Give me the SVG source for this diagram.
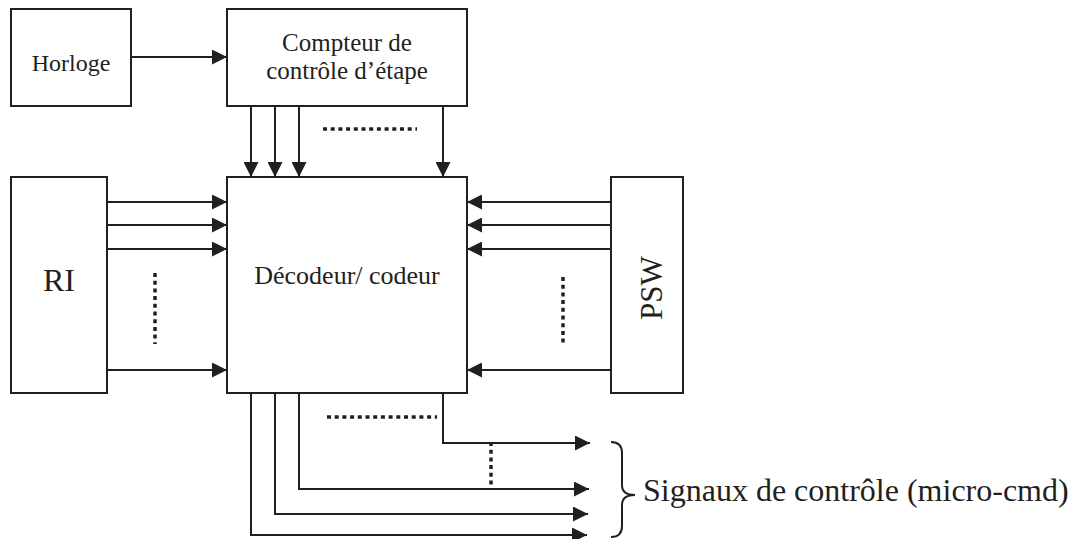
<svg xmlns="http://www.w3.org/2000/svg" width="1078" height="539" viewBox="0 0 1078 539">
<defs>
<style>
.box{fill:#fff;stroke:#231f20;stroke-width:2}
.ln{fill:none;stroke:#231f20;stroke-width:2}
.arr{fill:none;stroke:#231f20;stroke-width:2;marker-end:url(#ah)}
.dot{fill:none;stroke:#231f20;stroke-width:3.5;stroke-dasharray:4 3.7}
.t{font-family:"Liberation Serif","Times New Roman",serif;fill:#231f20;text-anchor:middle}
</style>
<marker id="ah" markerUnits="userSpaceOnUse" markerWidth="15" markerHeight="15" refX="15" refY="7.5" orient="auto">
<path d="M0,0 L15,7.5 L0,15 Z" fill="#231f20"/>
</marker>
</defs>
<rect width="1078" height="539" fill="#fff"/>
<g id="horloge">
<rect class="box" x="11" y="9" width="120" height="97"/>
<text class="t" x="71" y="71" font-size="24">Horloge</text>
</g>
<g id="compteur">
<rect class="box" x="227" y="9" width="240" height="97"/>
<text class="t" font-size="25"><tspan x="347" y="51">Compteur de</tspan><tspan x="347" y="79">contrôle d’étape</tspan></text>
</g>
<g id="decodeur">
<rect class="box" x="227" y="177" width="240" height="216"/>
<text class="t" x="347" y="284" font-size="26">Décodeur/ codeur</text>
</g>
<g id="ri">
<rect class="box" x="11" y="177" width="96" height="216"/>
<text class="t" x="59" y="291" font-size="32">RI</text>
</g>
<g id="psw">
<rect class="box" x="611" y="177" width="72" height="216"/>
<text class="t" transform="translate(662,288) rotate(-90)" font-size="31">PSW</text>
</g>
<g id="signaux">
<path class="ln" d="M611,442 Q622,442 622,453 L622,485 Q622,495 635,495 Q622,495 622,505 L622,526 Q622,537 611,537"/>
<text x="643" y="501" font-size="32" font-family="Liberation Serif, Times New Roman, serif" fill="#231f20">Signaux de contrôle (micro-cmd)</text>
</g>
<g id="connectors">
<path class="arr" d="M131,57 H227"/>
<path class="arr" d="M251,106 V177"/>
<path class="arr" d="M275,106 V177"/>
<path class="arr" d="M299,106 V177"/>
<path class="arr" d="M443,106 V177"/>
<path class="dot" d="M323,129 H417"/>
<path class="arr" d="M107,202 H227"/>
<path class="arr" d="M107,225 H227"/>
<path class="arr" d="M107,249 H227"/>
<path class="arr" d="M107,370 H227"/>
<path class="dot" d="M155,273 V344"/>
<path class="arr" d="M611,202 H467"/>
<path class="arr" d="M611,225 H467"/>
<path class="arr" d="M611,249 H467"/>
<path class="arr" d="M611,370 H467"/>
<path class="dot" d="M563,277 V346"/>
<path class="arr" d="M443,393 V443 H590"/>
<path class="arr" d="M299,393 V489 H589"/>
<path class="arr" d="M275,393 V514 H588"/>
<path class="arr" d="M251,393 V535 H587"/>
<path class="dot" d="M327,417 H437"/>
<path class="dot" d="M491,442 V487"/>
</g>
</svg>
